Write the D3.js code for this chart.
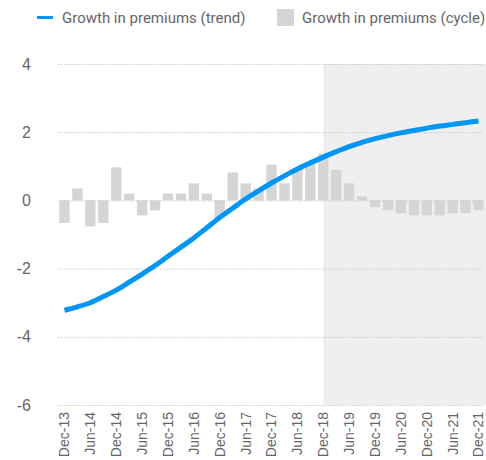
<!DOCTYPE html>
<html>
<head>
<meta charset="utf-8">
<script src="https://cdn.jsdelivr.net/npm/d3@7"></script>
<style>
  html, body { margin: 0; padding: 0; background: #fff; }
  svg { display: block; font-family: Roboto, "Open Sans", sans-serif; }
</style>
</head>
<body>
<svg id="chart" width="486" height="460"></svg>
<script>
// Quarterly periods, Dec-13 .. Dec-21
const quarters = [
  "Dec-13","Mar-14","Jun-14","Sep-14","Dec-14","Mar-15","Jun-15","Sep-15",
  "Dec-15","Mar-16","Jun-16","Sep-16","Dec-16","Mar-17","Jun-17","Sep-17",
  "Dec-17","Mar-18","Jun-18","Sep-18","Dec-18","Mar-19","Jun-19","Sep-19",
  "Dec-19","Mar-20","Jun-20","Sep-20","Dec-20","Mar-21","Jun-21","Sep-21","Dec-21"
];
// Growth in premiums, cyclical component
const cycle = [
  -0.66, 0.35, -0.76, -0.66, 0.97, 0.20, -0.44, -0.29,
  0.20, 0.20, 0.50, 0.20, -0.53, 0.82, 0.50, 0.35,
  1.05, 0.50, 0.90, 1.14, 1.37, 0.90, 0.50, 0.12,
  -0.20, -0.29, -0.38, -0.44, -0.44, -0.44, -0.38, -0.38, -0.29
];
// Growth in premiums, trend component
const trend = [
  -3.22, -3.12, -3.00, -2.82, -2.63, -2.40, -2.16, -1.91,
  -1.64, -1.37, -1.10, -0.80, -0.50, -0.23, 0.04, 0.28,
  0.51, 0.72, 0.92, 1.10, 1.27, 1.43, 1.58, 1.70,
  1.81, 1.90, 1.98, 2.05, 2.12, 2.18, 2.23, 2.28, 2.33
];
const yTicks = [4, 2, 0, -2, -4, -6];
const xTickLabels = quarters.filter((d, i) => i % 2 === 0);
const forecastStart = "Dec-18";

(function draw() {
  const svg = d3.select("#chart");
  const plotLeft = 58, plotRight = 485, plotTop = 64, plotBottom = 405;

  const x = d3.scaleBand().domain(quarters).range([plotLeft, plotRight])
    .paddingInner(0.2).paddingOuter(0.1);
  const y = d3.scaleLinear().domain([-6, 4]).range([plotBottom, plotTop]);
  const cx = d => x(d) + x.bandwidth() / 2;

  // Forecast period shading
  svg.append("rect")
    .attr("x", cx(forecastStart)).attr("y", y(4))
    .attr("width", 486 - cx(forecastStart)).attr("height", y(-6) - y(4))
    .attr("fill", "#efefef");

  // Cycle bars
  svg.append("g").selectAll("rect").data(cycle).join("rect")
    .attr("x", (d, i) => x(quarters[i]))
    .attr("width", x.bandwidth())
    .attr("y", d => y(Math.max(0, d)))
    .attr("height", d => Math.abs(y(d) - y(0)))
    .attr("fill", "#d5d5d5");

  // Gridlines and y labels (plain hyphen for negatives)
  const yAxis = d3.axisLeft(y).tickValues(yTicks).tickSize(-(484 - plotLeft))
    .tickFormat(d => String(d));
  const gy = svg.append("g").attr("transform", `translate(${plotLeft},0)`).call(yAxis);
  gy.select(".domain").remove();
  gy.selectAll(".tick line").attr("stroke", "#c8c8c8").attr("stroke-dasharray", "1.5,1.5");
  gy.selectAll(".tick text").attr("fill", "#666").attr("font-size", 16)
    .attr("x", -27);

  // X labels
  const xAxis = d3.axisBottom(x).tickValues(xTickLabels).tickSize(0).tickPadding(0);
  const gx = svg.append("g").attr("transform", `translate(0,${plotBottom})`).call(xAxis);
  gx.select(".domain").remove();
  gx.selectAll(".tick text")
    .attr("fill", "#666").attr("font-size", 14)
    .attr("text-anchor", "end")
    .attr("transform", "rotate(-90)")
    .attr("x", -7).attr("y", 0).attr("dy", "0.35em");

  // Trend line
  const line = d3.line().x((d, i) => cx(quarters[i])).y(d => y(d)).curve(d3.curveMonotoneX);
  svg.append("path").datum(trend)
    .attr("d", line).attr("fill", "none")
    .attr("stroke", "#0096f5").attr("stroke-width", 5);

  // Legend
  const lg = svg.append("g").attr("font-size", 15).attr("fill", "#666");
  lg.append("line").attr("x1", 37).attr("x2", 53).attr("y1", 17.5).attr("y2", 17.5)
    .attr("stroke", "#0096f5").attr("stroke-width", 3);
  lg.append("text").attr("x", 62).attr("y", 17.5).attr("dy", "0.35em")
    .text("Growth in premiums (trend)");
  lg.append("rect").attr("x", 277).attr("y", 9).attr("width", 17).attr("height", 17)
    .attr("fill", "#d5d5d5");
  lg.append("text").attr("x", 302).attr("y", 17.5).attr("dy", "0.35em")
    .text("Growth in premiums (cycle)");
})();
</script>
</body>
</html>
